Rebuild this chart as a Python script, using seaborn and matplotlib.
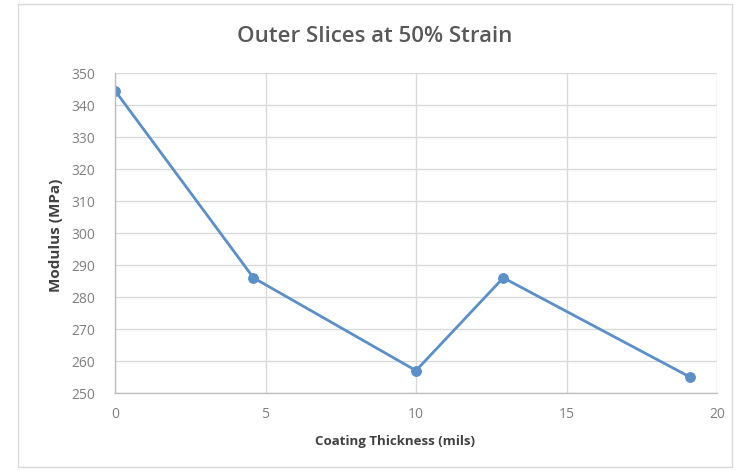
import matplotlib
matplotlib.use("Agg")
import matplotlib.pyplot as plt
import seaborn as sns
import pandas as pd
from matplotlib.ticker import MultipleLocator

thickness = [0, 4.6, 10, 12.9, 19.1]
modulus = [344.5, 286, 257, 286, 255]
x_ticks = [0, 5, 10, 15, 20]
y_ticks = [250, 260, 270, 280, 290, 300, 310, 320, 330, 340, 350]

df = pd.DataFrame({"Coating Thickness (mils)": thickness, "Modulus (MPa)": modulus})

sns.set_style("white")
plt.rcParams["font.family"] = ["Open Sans", "DejaVu Sans"]

fig = plt.figure(figsize=(7.36, 4.71), dpi=100)
# outer chart frame
fig.patches.append(plt.Rectangle((18/736, 4/471), 714/736, 463/471, transform=fig.transFigure,
                                 fill=False, edgecolor="#d9d9d9", linewidth=1))
ax = fig.add_axes([115/736, 1-393/471, (717-115)/736, (393-73)/471])

sns.lineplot(data=df, x="Coating Thickness (mils)", y="Modulus (MPa)", ax=ax,
             color="#5b8fc9", linewidth=2, marker="o", markersize=7,
             markeredgecolor="#5b8fc9", markerfacecolor="#5b8fc9")

ax.set_xlim(0, 20)
ax.set_ylim(250, 350)
ax.set_xticks(x_ticks)
ax.set_yticks(y_ticks)
ax.xaxis.set_minor_locator(MultipleLocator(1))
ax.yaxis.set_minor_locator(MultipleLocator(2))
ax.grid(True, which="major", color="#d9d9d9", linewidth=1)
ax.set_axisbelow(True)
for s in ["top", "right"]:
    ax.spines[s].set_visible(False)
for s in ["left", "bottom"]:
    ax.spines[s].set_color("#bfbfbf")
    ax.spines[s].set_linewidth(1)
ax.tick_params(axis="both", which="major", labelsize=10, labelcolor="#7f7f7f", length=0)
ax.tick_params(axis="y", which="major", pad=14)
ax.tick_params(axis="x", which="major", pad=10)
ax.tick_params(axis="both", which="minor", length=4, color="#bfbfbf", direction="in")

ax.set_xlabel("Coating Thickness (mils)", fontsize=9.5, fontweight="bold", color="#404040")
ax.xaxis.set_label_coords((395-115)/(717-115), -0.13)
ax.set_ylabel("Modulus (MPa)", fontsize=11, fontweight="bold", color="#404040")
ax.yaxis.set_label_coords((63-115)/(717-115), (393-235)/(393-73))
fig.text(375/736, 1-37/471, "Outer Slices at 50% Strain", ha="center", va="center",
         fontsize=16, fontweight="semibold", color="#595959")

fig.savefig("out.png", dpi=100)
